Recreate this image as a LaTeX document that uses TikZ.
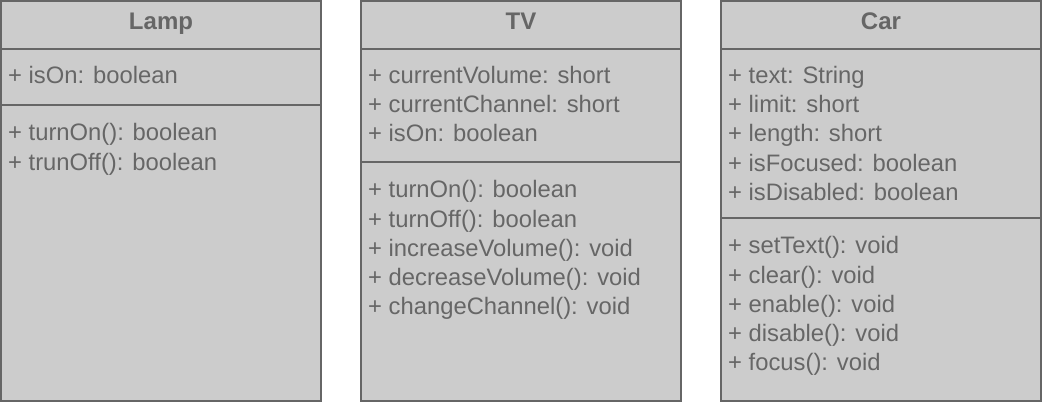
\documentclass[tikz,border=0pt]{standalone}
\usepackage{fontspec}
\setmainfont{Liberation Sans}
\usetikzlibrary{positioning}
\definecolor{boxfill}{HTML}{CCCCCC}
\definecolor{boxline}{HTML}{666666}

\begin{document}
\begin{tikzpicture}[
	x=1pt, y=1pt,
	part/.style={rectangle, draw=boxline, fill=boxfill, line width=2pt, inner sep=0pt, outer sep=0pt, minimum width=320pt, anchor=north west},
	title/.style={part, minimum height=48pt, text height=17pt, text depth=8pt, text=boxline, font=\fontsize{24}{28}\selectfont\bfseries},
	member/.style={anchor=base west, inner sep=0pt, text=boxline, font=\fontsize{23.8}{28}\selectfont},
]
	\useasboundingbox (0,0) rectangle (1042,-402);

	% Lamp
	\node[title] (lamp) at (1,-1) {Lamp};
	\node[part, minimum height=56pt, below=0pt of lamp.south west, anchor=north west] (lampattr) {};
	\node[part, minimum height=296pt, below=0pt of lampattr.south west, anchor=north west] (lampops) {};
	\foreach \t [count=\i from 0] in {+ isOn: boolean}
		\node[member] (lamp-a\i) at ([xshift=7pt, yshift={-34.5pt-\i*29.2pt}]lampattr.north west) {\t};
	\foreach \t [count=\i from 0] in {+ turnOn(): boolean, + trunOff(): boolean}
		\node[member] (lamp-o\i) at ([xshift=7pt, yshift={-35.8pt-\i*29.2pt}]lampops.north west) {\t};

	% TV
	\node[title] (tv) at (361,-1) {TV};
	\node[part, minimum height=113pt, below=0pt of tv.south west, anchor=north west] (tvattr) {};
	\node[part, minimum height=239pt, below=0pt of tvattr.south west, anchor=north west] (tvops) {};
	\foreach \t [count=\i from 0] in {+ currentVolume: short, + currentChannel: short, + isOn: boolean}
		\node[member] (tv-a\i) at ([xshift=7pt, yshift={-34.5pt-\i*29.2pt}]tvattr.north west) {\t};
	\foreach \t [count=\i from 0] in {+ turnOn(): boolean, + turnOff(): boolean, + increaseVolume(): void, + decreaseVolume(): void, + changeChannel(): void}
		\node[member] (tv-o\i) at ([xshift=7pt, yshift={-35.8pt-\i*29.2pt}]tvops.north west) {\t};

	% Car
	\node[title] (car) at (721,-1) {Car};
	\node[part, minimum height=169pt, below=0pt of car.south west, anchor=north west] (carattr) {};
	\node[part, minimum height=183pt, below=0pt of carattr.south west, anchor=north west] (carops) {};
	\foreach \t [count=\i from 0] in {+ text: String, + limit: short, + length: short, + isFocused: boolean, + isDisabled: boolean}
		\node[member] (car-a\i) at ([xshift=7pt, yshift={-34.5pt-\i*29.2pt}]carattr.north west) {\t};
	\foreach \t [count=\i from 0] in {+ setText(): void, + clear(): void, + enable(): void, + disable(): void, + focus(): void}
		\node[member] (car-o\i) at ([xshift=7pt, yshift={-35.8pt-\i*29.2pt}]carops.north west) {\t};
\end{tikzpicture}
\end{document}
